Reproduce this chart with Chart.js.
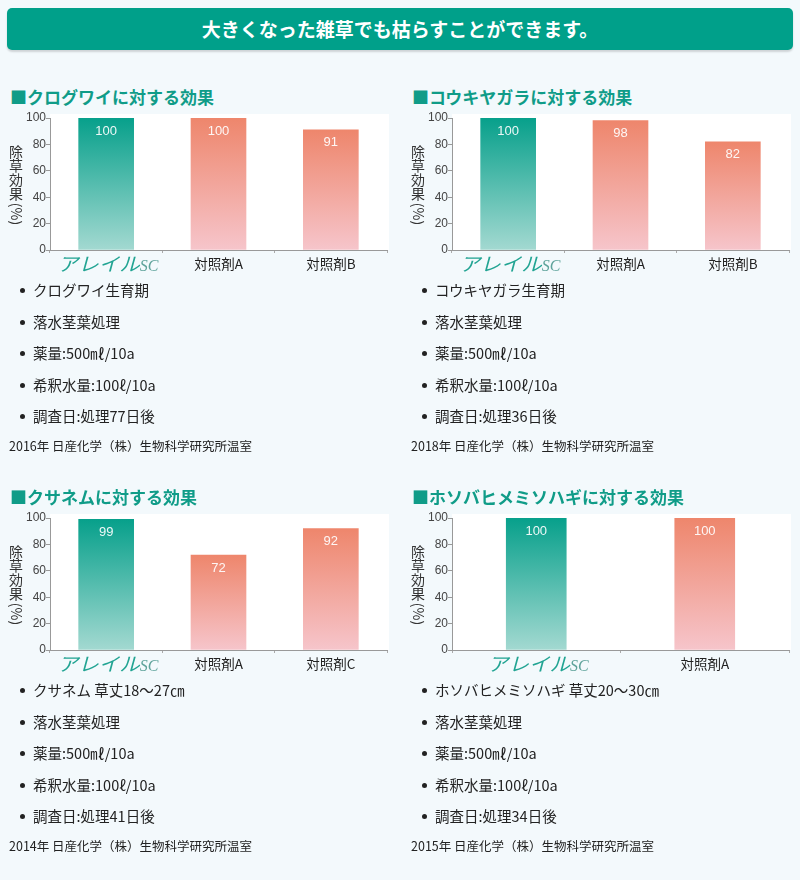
<!DOCTYPE html>
<html lang="ja">
<head>
<meta charset="utf-8">
<title>雑草効果</title>
<script src="https://cdn.jsdelivr.net/npm/chart.js@4.4.0/dist/chart.umd.min.js"></script>
<style>
  html, body {
    margin: 0;
    padding: 0;
  }
  body {
    width: 800px;
    height: 880px;
    position: relative;
    overflow: hidden;
    background: #f3f9fc;
    font-family: "Noto Sans CJK JP", "Noto Sans", sans-serif;
    color: #222;
  }
  .banner {
    position: absolute;
    left: 7px;
    top: 8px;
    width: 786px;
    height: 42px;
    border-radius: 5px;
    background: #00a08a;
    box-shadow: 0 2px 2px rgba(0, 0, 0, 0.15);
    color: #fff;
    font-weight: bold;
    font-size: 19px;
    line-height: 42px;
    text-align: center;
  }
  .panel {
    position: absolute;
    width: 400px;
    height: 470px;
  }
  .panel h2 {
    position: absolute;
    left: 10px;
    top: 85px;
    margin: 0;
    font-size: 17px;
    line-height: 24px;
    font-weight: bold;
    color: #109c88;
    white-space: nowrap;
  }
  .panel canvas {
    position: absolute;
    left: 0;
    top: 108px;
  }
  .panel ul {
    position: absolute;
    left: 33px;
    top: 280px;
    margin: 0;
    padding: 0;
    list-style: none;
  }
  .panel li {
    position: relative;
    height: 31.6px;
    line-height: 20px;
    font-size: 14.5px;
    white-space: nowrap;
  }
  .panel li::before {
    content: "";
    position: absolute;
    left: -13px;
    top: 8px;
    width: 5px;
    height: 5px;
    border-radius: 50%;
    background: #222;
  }
  .panel .src {
    position: absolute;
    left: 9px;
    top: 437px;
    font-size: 12.5px;
    line-height: 18px;
    white-space: nowrap;
  }
</style>
</head>
<body>
<div class="banner">大きくなった雑草でも枯らすことができます。</div>
<div id="panels"></div>

<script>
const titles = [
  "■クログワイに対する効果",
  "■コウキヤガラに対する効果",
  "■クサネムに対する効果",
  "■ホソバヒメミソハギに対する効果",
];

const categories1 = ["アレイルSC", "対照剤A", "対照剤B"];
const values1 = [100, 100, 91];
const categories2 = ["アレイルSC", "対照剤A", "対照剤B"];
const values2 = [100, 98, 82];
const categories3 = ["アレイルSC", "対照剤A", "対照剤C"];
const values3 = [99, 72, 92];
const categories4 = ["アレイルSC", "対照剤A"];
const values4 = [100, 100];

const yTicks = [0, 20, 40, 60, 80, 100];
const yTitle = "除草効果(%)";

const notes1 = ["クログワイ生育期", "落水茎葉処理", "薬量:500㎖/10a", "希釈水量:100ℓ/10a", "調査日:処理77日後"];
const notes2 = ["コウキヤガラ生育期", "落水茎葉処理", "薬量:500㎖/10a", "希釈水量:100ℓ/10a", "調査日:処理36日後"];
const notes3 = ["クサネム 草丈18～27㎝", "落水茎葉処理", "薬量:500㎖/10a", "希釈水量:100ℓ/10a", "調査日:処理41日後"];
const notes4 = ["ホソバヒメミソハギ 草丈20～30㎝", "落水茎葉処理", "薬量:500㎖/10a", "希釈水量:100ℓ/10a", "調査日:処理34日後"];

const sources = [
  "2016年 日産化学（株）生物科学研究所温室",
  "2018年 日産化学（株）生物科学研究所温室",
  "2014年 日産化学（株）生物科学研究所温室",
  "2015年 日産化学（株）生物科学研究所温室",
];

const panelDefs = [
  { x: 0, y: 0, cats: categories1, vals: values1, notes: notes1, bar: 55 },
  { x: 402, y: 0, cats: categories2, vals: values2, notes: notes2, bar: 55 },
  { x: 0, y: 400, cats: categories3, vals: values3, notes: notes3, bar: 55 },
  { x: 402, y: 400, cats: categories4, vals: values4, notes: notes4, bar: 60 },
];

Chart.defaults.font.family = "'Liberation Sans', Arial, sans-serif";
Chart.defaults.color = "#444";

// white plotting area behind the bars
const plotBg = {
  id: "plotBg",
  beforeDraw(chart) {
    const a = chart.chartArea;
    const ctx = chart.ctx;
    ctx.save();
    ctx.fillStyle = "#ffffff";
    ctx.fillRect(a.left, a.top - 4, a.right - a.left + 2, a.bottom - a.top + 4);
    ctx.restore();
  },
};

// value labels inside the top of each bar
const barValues = {
  id: "barValues",
  afterDatasetsDraw(chart) {
    const ctx = chart.ctx;
    const meta = chart.getDatasetMeta(0);
    const data = chart.data.datasets[0].data;
    ctx.save();
    ctx.font = "13px 'Liberation Sans', Arial, sans-serif";
    ctx.fillStyle = "rgba(255,255,255,0.92)";
    ctx.textAlign = "center";
    ctx.textBaseline = "middle";
    meta.data.forEach((bar, i) => {
      ctx.fillText(String(data[i]), bar.x, bar.y + 13);
    });
    ctx.restore();
  },
};

// vertical y axis title and the product logo under the first bar
const extras = {
  id: "extras",
  afterDraw(chart) {
    const ctx = chart.ctx;
    const a = chart.chartArea;
    ctx.save();
    ctx.fillStyle = "#333";
    ctx.font = "14px 'Noto Sans CJK JP', sans-serif";
    ctx.textAlign = "center";
    ctx.textBaseline = "middle";
    const chars = yTitle.slice(0, 4).split("");
    chars.forEach((c, i) => {
      ctx.fillText(c, 16, a.top + 34 + i * 14);
    });
    ctx.translate(16, a.top + 96);
    ctx.rotate(Math.PI / 2);
    ctx.fillText(yTitle.slice(4), 0, 0);
    ctx.restore();

    const xs = chart.scales.x;
    const cx = xs.getPixelForTick(0);
    const base = a.bottom + 21;
    ctx.save();
    ctx.textBaseline = "alphabetic";
    ctx.textAlign = "left";
    const f1 = "italic 400 19px 'Noto Sans CJK JP', sans-serif";
    const f2 = "italic 16px 'Liberation Serif', serif";
    ctx.font = f1;
    const w1 = ctx.measureText("アレイル").width * 1.08;
    ctx.font = f2;
    const w2 = ctx.measureText("SC").width;
    const left = cx - (w1 + w2) / 2 + 2;
    ctx.font = f1;
    ctx.fillStyle = "#22a493";
    ctx.save();
    ctx.translate(left, base);
    ctx.scale(1.08, 1);
    ctx.fillText("アレイル", 0, 0);
    ctx.restore();
    ctx.font = f2;
    ctx.fillStyle = "#5fa39b";
    ctx.fillText("SC", left + w1, base);
    ctx.restore();
  },
};

function barFill(c, top, bottom) {
  const chart = c.chart;
  if (!chart.chartArea) return top;
  const y = chart.scales.y;
  const y0 = y.getPixelForValue(c.raw);
  const y1 = y.getPixelForValue(0);
  const g = chart.ctx.createLinearGradient(0, y0, 0, y1);
  g.addColorStop(0, top);
  g.addColorStop(1, bottom);
  return g;
}

const holder = document.getElementById("panels");

panelDefs.forEach((p, idx) => {
  const div = document.createElement("div");
  div.className = "panel";
  div.style.left = p.x + "px";
  div.style.top = p.y + "px";

  const h = document.createElement("h2");
  h.textContent = titles[idx];
  div.appendChild(h);

  const cv = document.createElement("canvas");
  cv.width = 398;
  cv.height = 172;
  cv.style.width = "398px";
  cv.style.height = "172px";
  div.appendChild(cv);

  const ul = document.createElement("ul");
  p.notes.forEach((n) => {
    const li = document.createElement("li");
    li.textContent = n;
    ul.appendChild(li);
  });
  div.appendChild(ul);

  const src = document.createElement("div");
  src.className = "src";
  src.textContent = sources[idx];
  div.appendChild(src);

  holder.appendChild(div);

  new Chart(cv.getContext("2d"), {
    type: "bar",
    data: {
      labels: p.cats,
      datasets: [
        {
          data: p.vals,
          barThickness: p.bar,
          borderWidth: 0,
          backgroundColor: (c) =>
            c.dataIndex === 0
              ? barFill(c, "#07a08b", "#a3d9d1")
              : barFill(c, "#ee866c", "#f6c5cb"),
        },
      ],
    },
    options: {
      responsive: false,
      animation: false,
      events: [],
      layout: {
        padding: { top: 10, right: 11, bottom: 0, left: 0 },
      },
      plugins: {
        legend: { display: false },
        tooltip: { enabled: false },
      },
      scales: {
        x: {
          afterFit(scale) {
            scale.height = 30;
          },
          border: { display: true, color: "#999", width: 1 },
          grid: {
            drawOnChartArea: false,
            color: "#aaa",
            tickLength: 3,
          },
          ticks: {
            padding: 3,
            color: "#222",
            font: { family: "'Noto Sans CJK JP', sans-serif", size: 13.5 },
            callback: (v, i) => (i === 0 ? "" : p.cats[i]),
          },
        },
        y: {
          min: yTicks[0],
          max: yTicks[yTicks.length - 1],
          afterFit(scale) {
            scale.width = 50;
          },
          afterBuildTicks(scale) {
            scale.ticks = yTicks.map((v) => ({ value: v }));
          },
          border: { display: true, color: "#999", width: 1 },
          grid: {
            drawOnChartArea: false,
            color: "#999",
            tickLength: 4,
          },
          ticks: {
            padding: 0,
            color: "#444",
            font: { size: 12 },
          },
        },
      },
    },
    plugins: [plotBg, barValues, extras],
  });
});
</script>
</body>
</html>
